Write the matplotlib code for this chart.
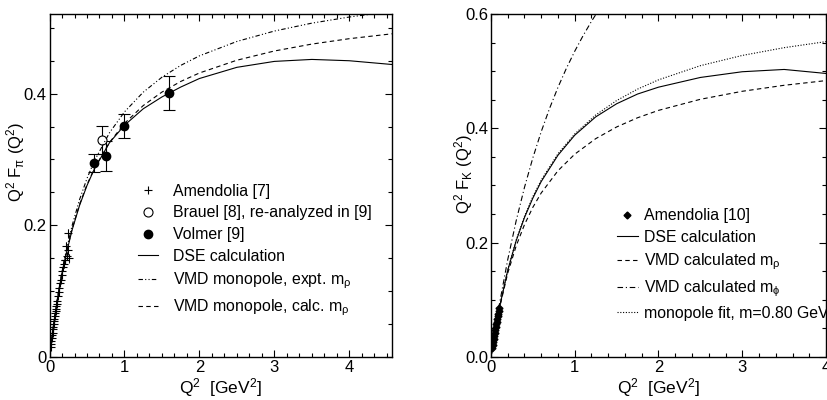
import numpy as np
import matplotlib
matplotlib.use('Agg')
import matplotlib.pyplot as plt
from matplotlib.ticker import MultipleLocator, FixedFormatter, FixedLocator

plt.rcParams['font.family'] = ['Liberation Sans', 'DejaVu Sans']
plt.rcParams['mathtext.fontset'] = 'custom'
plt.rcParams['mathtext.rm'] = 'Liberation Sans'
plt.rcParams['mathtext.it'] = 'Liberation Sans'
plt.rcParams['mathtext.bf'] = 'Liberation Sans:bold'

# ---- pion panel data ----
pi_amen_q2 = [0.015, 0.020, 0.025, 0.030, 0.035, 0.040, 0.045, 0.050, 0.055, 0.060,
              0.065, 0.070, 0.075, 0.080, 0.085, 0.090, 0.095, 0.100, 0.110, 0.120,
              0.130, 0.140, 0.150, 0.160, 0.170, 0.180, 0.190, 0.200, 0.210, 0.220,
              0.230, 0.240, 0.250, 0.260]
pi_amen_val = [0.0146, 0.0195, 0.0240, 0.0285, 0.0330, 0.0372, 0.0418, 0.0458, 0.0500, 0.0541,
               0.0580, 0.0620, 0.0662, 0.0700, 0.0735, 0.0775, 0.0812, 0.0846, 0.0920, 0.0985,
               0.1055, 0.1118, 0.1175, 0.1240, 0.1300, 0.1360, 0.1415, 0.1470, 0.1480, 0.1680,
               0.1530, 0.1620, 0.1880, 0.1500]
pi_amen_err = [0.003, 0.003, 0.003, 0.003, 0.003, 0.003, 0.003, 0.003, 0.003, 0.003,
               0.003, 0.003, 0.003, 0.003, 0.004, 0.004, 0.004, 0.004, 0.004, 0.004,
               0.004, 0.004, 0.005, 0.005, 0.005, 0.005, 0.006, 0.006, 0.006, 0.006,
               0.006, 0.007, 0.007, 0.007]

brauel_q2 = [0.70]
brauel_val = [0.330]
brauel_err = [0.021]

volmer_q2 = [0.60, 0.75, 1.00, 1.60]
volmer_val = [0.295, 0.305, 0.351, 0.401]
volmer_err = [0.014, 0.023, 0.018, 0.026]

curve_q2 = [0.0, 0.02, 0.05, 0.1, 0.15, 0.2, 0.3, 0.4, 0.5, 0.6, 0.8, 1.0,
            1.25, 1.5, 1.75, 2.0, 2.5, 3.0, 3.5, 4.0, 4.6]
pi_dse = [0.0, 0.0193, 0.0456, 0.0842, 0.1172, 0.1458, 0.1925, 0.2300, 0.2605, 0.2860,
          0.3255, 0.3520, 0.3770, 0.3950, 0.4100, 0.4230, 0.4400, 0.4490, 0.4520, 0.4500, 0.4440]
pi_vmd_expt = [0.0, 0.0194, 0.0461, 0.0856, 0.1197, 0.1496, 0.1992, 0.2389, 0.2713, 0.2982,
               0.3406, 0.3723, 0.4022, 0.4250, 0.4429, 0.4574, 0.4793, 0.4951, 0.5071, 0.5164, 0.5253]
pi_vmd_calc = [0.0, 0.0193, 0.0458, 0.0846, 0.1179, 0.1467, 0.1941, 0.2316, 0.2619, 0.2870,
               0.3259, 0.3548, 0.3819, 0.4024, 0.4185, 0.4314, 0.4508, 0.4648, 0.4753, 0.4835, 0.4913]

# ---- kaon panel data ----
k_amen_q2 = [0.016, 0.022, 0.028, 0.034, 0.040, 0.046, 0.052, 0.058, 0.064, 0.070,
             0.076, 0.082, 0.088, 0.094, 0.100]
k_amen_val = [0.016, 0.021, 0.027, 0.031, 0.037, 0.042, 0.047, 0.052, 0.057, 0.061,
              0.067, 0.071, 0.075, 0.081, 0.086]
k_amen_err = [0.004, 0.004, 0.004, 0.005, 0.005, 0.005, 0.005, 0.006, 0.006, 0.006,
              0.006, 0.007, 0.007, 0.007, 0.008]

k_q2 = [0.0, 0.05, 0.1, 0.2, 0.3, 0.4, 0.5, 0.6, 0.8, 1.0, 1.25, 1.5, 1.75,
        2.0, 2.5, 3.0, 3.5, 4.0]
k_dse = [0.0, 0.0462, 0.0860, 0.1515, 0.2030, 0.2440, 0.2780, 0.3070, 0.3530, 0.3880,
         0.4200, 0.4430, 0.4600, 0.4720, 0.4890, 0.4990, 0.5030, 0.4960]
k_vmd_rho = [0.0, 0.0458, 0.0846, 0.1467, 0.1941, 0.2316, 0.2619, 0.2870, 0.3259, 0.3548,
             0.3819, 0.4024, 0.4185, 0.4314, 0.4508, 0.4648, 0.4753, 0.4835]
k_fit = [0.0, 0.0464, 0.0865, 0.1524, 0.2043, 0.2462, 0.2807, 0.3097, 0.3556, 0.3902,
         0.4233, 0.4486, 0.4686, 0.4848, 0.5096, 0.5275, 0.5411, 0.5517]
k_phi_q2 = [0.0, 0.05, 0.1, 0.2, 0.3, 0.4, 0.5, 0.6, 0.7, 0.8, 0.9, 1.0, 1.1, 1.2, 1.3]
k_vmd_phi = [0.0, 0.0479, 0.0920, 0.1704, 0.2379, 0.2968, 0.3485, 0.3943, 0.4351, 0.4718,
             0.5049, 0.5349, 0.5622, 0.5872, 0.6102]

LW = 0.8
FS_TICK = 12
FS_LEG = 11.4


def style_axes(ax, xmax, ymax, xminor, ylabels):
    ax.set_xlim(0, xmax)
    ax.set_ylim(0, ymax)
    ax.xaxis.set_major_locator(MultipleLocator(1))
    ax.xaxis.set_minor_locator(MultipleLocator(xminor))
    ax.yaxis.set_major_locator(FixedLocator([0.0, 0.2, 0.4, 0.6][:len(ylabels)]))
    ax.yaxis.set_major_formatter(FixedFormatter(ylabels))
    ax.yaxis.set_minor_locator(MultipleLocator(0.05))
    ax.tick_params(which='both', direction='in', top=True, right=True, labelsize=FS_TICK, pad=2)
    ax.tick_params(which='major', length=5, width=0.8)
    ax.tick_params(which='minor', length=3, width=0.8)
    for s in ax.spines.values():
        s.set_linewidth(1.0)
    ax.set_xlabel('Q$^2$  [GeV$^2$]', fontsize=12.5, labelpad=1)


fig = plt.figure(figsize=(8.27, 4.0), dpi=100)

# ---------------- left: pion ----------------
ax1 = fig.add_axes([0.0599, 0.1075, 0.4141, 0.8575])
ax1.errorbar(pi_amen_q2, pi_amen_val, yerr=pi_amen_err, fmt='none', ecolor='k', elinewidth=0.6)
h_am, = ax1.plot(pi_amen_q2, pi_amen_val, '+', color='k', ms=6, mew=0.8, ls='none')
ax1.errorbar(brauel_q2, brauel_val, yerr=brauel_err, fmt='none', ecolor='k', elinewidth=0.8, capsize=4, capthick=0.8)
ax1.errorbar(volmer_q2, volmer_val, yerr=volmer_err, fmt='none', ecolor='k', elinewidth=0.8, capsize=4, capthick=0.8)
h_br, = ax1.plot(brauel_q2, brauel_val, 'o', mfc='white', mec='k', ms=6.5, mew=0.8, ls='none')
h_vo, = ax1.plot(volmer_q2, volmer_val, 'o', color='k', ms=6, ls='none')
h_dse, = ax1.plot(curve_q2, pi_dse, '-', color='k', lw=LW)
h_ex, = ax1.plot(curve_q2, pi_vmd_expt, color='k', lw=LW, dashes=(4, 2, 1, 2, 1, 2))
h_ca, = ax1.plot(curve_q2, pi_vmd_calc, color='k', lw=LW, dashes=(4, 3))
style_axes(ax1, 4.57, 0.521, 1 / 6, ['0', '0.2', '0.4'])
ax1.set_ylabel('Q$^2$ F$_\\pi$ (Q$^2$)', fontsize=12)
ax1.yaxis.set_label_coords(-0.066, 0.569)
ax1.legend([h_am, h_br, h_vo, h_dse, h_ex, h_ca],
           ['Amendolia [7]', 'Brauel [8], re-analyzed in [9]', 'Volmer [9]', 'DSE calculation',
            'VMD monopole, expt. m$_\\rho$', 'VMD monopole, calc. m$_\\rho$'],
           loc='upper left', bbox_to_anchor=(0.258, 0.505), frameon=False, fontsize=FS_LEG,
           handlelength=1.3, handletextpad=0.9, labelspacing=0.42, borderpad=0, borderaxespad=0)

# ---------------- right: kaon ----------------
ax2 = fig.add_axes([0.5937, 0.1075, 0.4051, 0.8575])
ax2.errorbar(k_amen_q2, k_amen_val, yerr=k_amen_err, fmt='none', ecolor='k', elinewidth=0.6)
h_ka, = ax2.plot(k_amen_q2, k_amen_val, 'D', color='k', ms=3.5, ls='none')
h_kd, = ax2.plot(k_q2, k_dse, '-', color='k', lw=LW)
h_kr, = ax2.plot(k_q2, k_vmd_rho, color='k', lw=LW, dashes=(4, 3))
h_kp, = ax2.plot(k_phi_q2, k_vmd_phi, color='k', lw=LW, dashes=(5, 2.5, 1, 2.5))
h_kf, = ax2.plot(k_q2, k_fit, color='k', lw=LW, dashes=(1, 1.5))
style_axes(ax2, 4.0, 0.6, 0.2, ['0.0', '0.2', '0.4', '0.6'])
ax2.set_ylabel('Q$^2$ F$_K$ (Q$^2$)', fontsize=12)
ax2.yaxis.set_label_coords(-0.048, 0.534)
ax2.legend([h_ka, h_kd, h_kr, h_kp, h_kf],
           ['Amendolia [10]', 'DSE calculation', 'VMD calculated m$_\\rho$',
            'VMD calculated m$_\\phi$', 'monopole fit, m=0.80 GeV'],
           loc='upper left', bbox_to_anchor=(0.376, 0.434), frameon=False, fontsize=FS_LEG,
           handlelength=1.3, handletextpad=0.4, labelspacing=0.42, borderpad=0, borderaxespad=0)

fig.savefig('out.png', dpi=100)
